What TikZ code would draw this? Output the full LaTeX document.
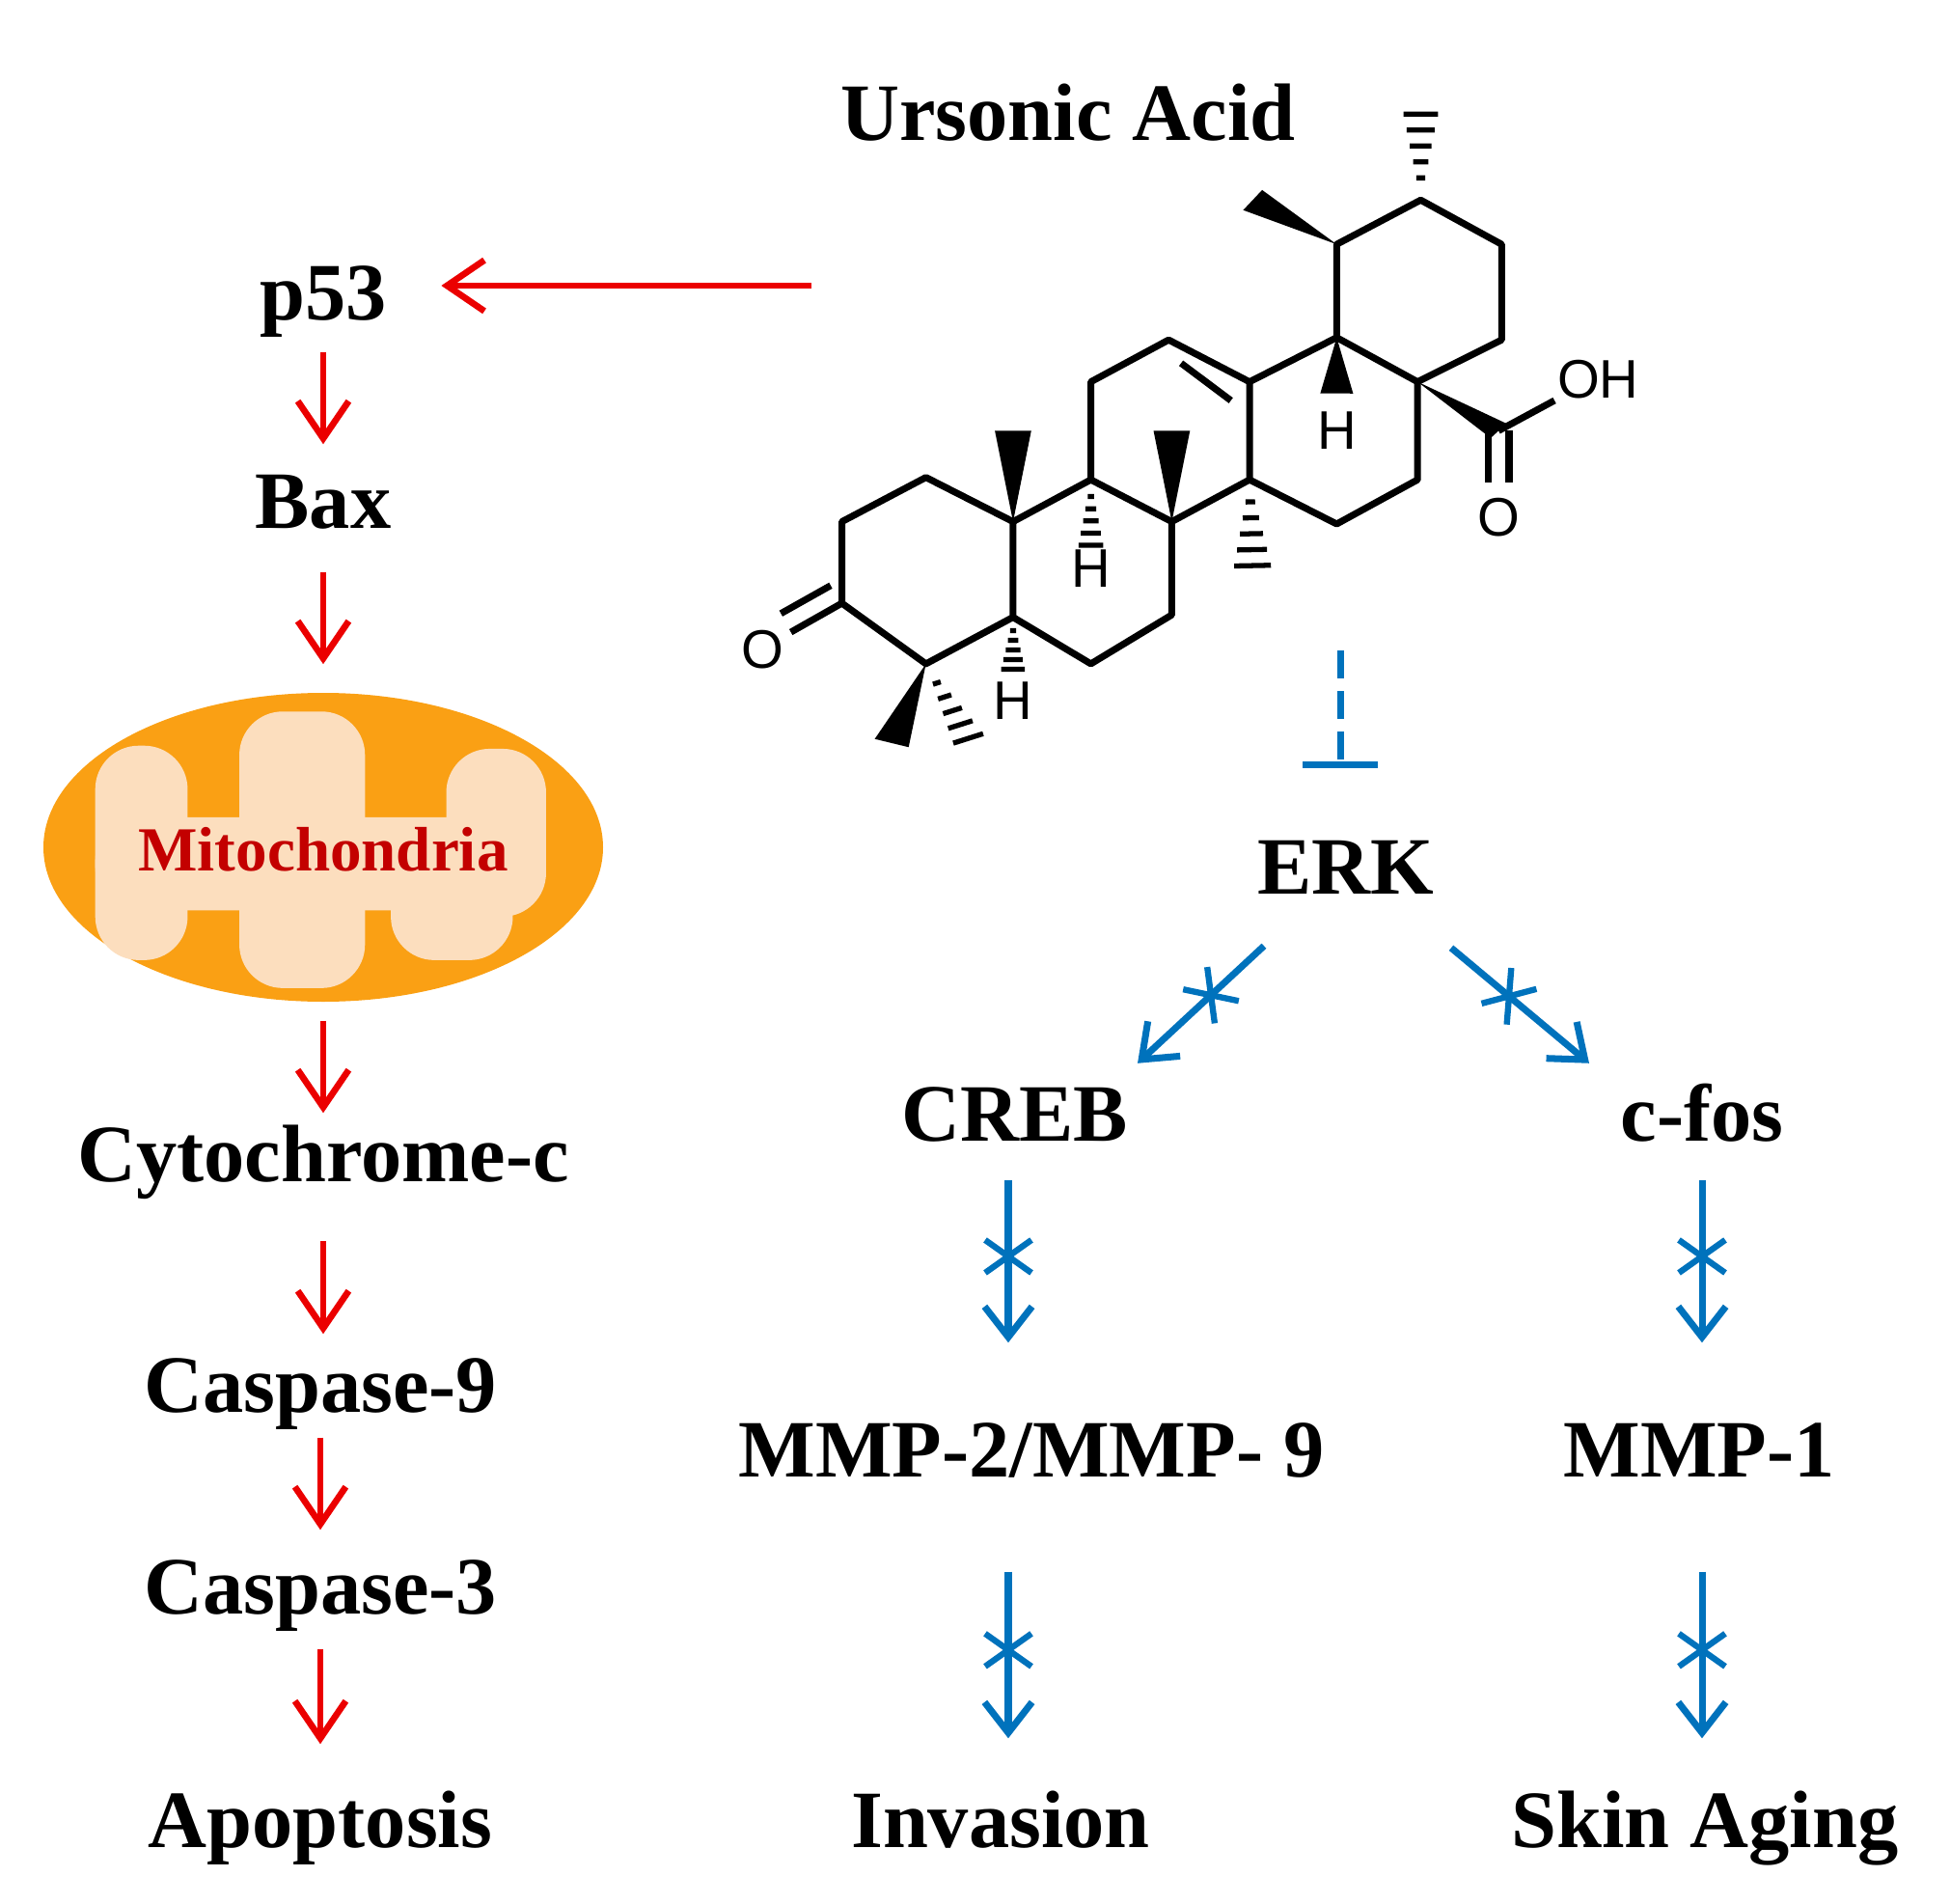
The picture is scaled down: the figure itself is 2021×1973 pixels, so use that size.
\documentclass[tikz,border=0pt]{standalone}
\usepackage{fontspec}
\setmainfont{Liberation Serif}
\newfontfamily\chemsf{Liberation Sans}
\usetikzlibrary{arrows.meta,calc,decorations.markings}
\definecolor{rd}{RGB}{235,0,0}
\definecolor{bl}{RGB}{0,114,188}
\definecolor{mitoO}{RGB}{250,160,20}
\definecolor{mitoL}{RGB}{252,222,190}
\definecolor{mitoT}{RGB}{195,0,0}
\newcommand\wdg[3]{\path ($(#2)!#3!90:(#1)$) coordinate (wL) ($(#2)!#3!-90:(#1)$) coordinate (wR); \fill (#1) -- (wL) -- (wR) -- cycle;}
\newcommand\hsh[3]{\path ($(#2)!#3!90:(#1)$) coordinate (wL) ($(#2)!#3!-90:(#1)$) coordinate (wR);
 \foreach \t in {0.25,0.43,0.61,0.79,0.97}{\draw[line width=1.5pt] ($(#1)!\t!(wL)$) -- ($(#1)!\t!(wR)$);}}
\tikzset{
 lbl/.style={font=\fontsize{24}{28}\selectfont\bfseries, inner sep=0, text height=0.6cm, text depth=0.15cm},
 ra/.style={draw=rd, line width=1.9pt, -{Straight Barb[length=11pt,width=15pt,line width=1.9pt]}},
 ba/.style={draw=bl, line width=2pt, -{Straight Barb[length=9pt,width=14pt,line width=2pt]}},
 xm/.style={postaction={decorate, decoration={markings, mark=at position #1 with {
   \draw[bl, line width=1.8pt, -] (-0.17cm,-0.24cm)--(0.17cm,0.24cm) (-0.17cm,0.24cm)--(0.17cm,-0.24cm);}}}},
 bond/.style={line width=2pt, line join=round},
 atm/.style={font=\chemsf\fontsize{16}{18}\selectfont, inner sep=0},
}
\begin{document}
\begin{tikzpicture}[x=0.01cm,y=-0.01cm]
\useasboundingbox (0,0) rectangle (2021,1973);
% left column
\node[lbl] (p53) at (335,309) {p53};
\node[lbl] (bax) at (335,525) {Bax};
% mitochondria
\fill[mitoO] (335,878) ellipse [x radius=290, y radius=160];
\begin{scope}[shift={(335,878)}, xscale=0.383, yscale=0.322, shift={(-767,-517)}, rounded corners=0.45cm]
 \fill[mitoL] (150,420) rectangle (1370,720);
 \fill[mitoL] (150,190) rectangle (400,880);
 \fill[mitoL] (540,80) rectangle (880,970);
 \fill[mitoL] (1100,200) rectangle (1370,740);
 \fill[mitoL] (950,560) rectangle (1280,880);
\end{scope}
\node[inner sep=0, minimum width=5.8cm, minimum height=3.2cm] (mito) at (335,878) {};
\node[font=\fontsize{18.5}{20}\selectfont\bfseries, text=mitoT] at (335,880) {Mitochondria};
\node[lbl] (cyt) at (335,1202) {Cytochrome-c};
\node[lbl] (c9) at (332,1441) {Caspase-9};
\node[lbl] (c3) at (332,1650) {Caspase-3};
\node[lbl] (apo) at (332,1892) {Apoptosis};
% right side text
\node[lbl] (ua) at (1107,123) {Ursonic Acid};
\node[lbl] (erk) at (1395,904) {ERK};
\node[lbl] (creb) at (1052,1160) {CREB};
\node[lbl] (cfos) at (1764,1160) {c-fos};
\node[lbl] (mmp) at (1069,1508) {MMP-2/MMP- 9};
\node[lbl] (mmp1) at (1761,1508) {MMP-1};
\node[lbl] (inv) at (1037,1892) {Invasion};
\node[lbl] (skin) at (1767,1892) {Skin Aging};
% molecule
\begin{scope}[shift={(750,60)}, xscale=0.645, yscale=0.483]
 \foreach \n/\x/\y in {1/325/900,2/190/995,3/190/1170,4/325/1300,5/465/1200,10/465/995,9/590/905,8/720/995,7/720/1195,6/590/1300,11/590/695,12/715/605,13/845/695,14/845/905,18/985/600,17/1115/695,16/1115/905,15/985/1000,19/985/400,20/1120/305,21/1250/400,22/1250/605}
   \coordinate (a\n) at (\x,\y);
 \draw[bond] (a1)--(a2)--(a3)--(a4)--(a5)--(a10)--cycle;
 \draw[bond] (a10)--(a9)--(a8)--(a7)--(a6)--(a5);
 \draw[bond] (a9)--(a11)--(a12)--(a13)--(a14)--(a8);
 \draw[bond] (a13)--(a18)--(a17)--(a16)--(a15)--(a14);
 \draw[bond] (a18)--(a19)--(a20)--(a21)--(a22)--(a17);
 \draw[bond] (735,655)--(815,735);
 % ketone
 \draw[bond] (a3)--(108,1232);
 \draw[bond] (172,1132)--(92,1192);
 \node[atm] at (62,1270) {O};
 % substituents
 \wdg{a10}{465,800}{0.15}
 \wdg{a8}{720,800}{0.15}
 \hsh{a9}{590,1050}{0.14}
 \node[atm] at (590,1095) {H};
 \hsh{a14}{850,1095}{0.16}
 \wdg{a18}{985,720}{0.22}
 \node[atm] at (985,800) {H};
 \wdg{a19}{850,305}{0.16}
 \hsh{a20}{1120,115}{0.15}
 \hsh{a5}{465,1315}{0.17}
 \node[atm] at (465,1380) {H};
 \wdg{a4}{270,1470}{0.16}
 \hsh{a4}{395,1465}{0.15}
 \coordinate (cc) at (1245,800);
 \wdg{a17}{cc}{0.12}
 \draw[bond] (cc)--(1335,735);
 \node[atm] at (1405,690) {OH};
 \draw[bond] (1228,800)--(1228,912);
 \draw[bond] (1262,800)--(1262,912);
 \node[atm] at (1245,985) {O};
\end{scope}
% red arrows
\coordinate (src) at (841,296);
\draw[ra, shorten >=0.56cm] (src) -- (p53.east |- src);
\draw[ra, shorten <=0.175cm, shorten >=0.265cm] (p53.south) -- (bax.north);
\draw[ra, shorten <=0.30cm, shorten >=0.29cm] (bax.south) -- (mito.north);
\draw[ra, shorten <=0.19cm, shorten >=0.105cm] (mito.south) -- (cyt.north);
\draw[ra, shorten <=0.46cm, shorten >=0.205cm] (cyt.south) -- (cyt.south |- c9.north);
\draw[ra, shorten <=0.105cm, shorten >=0.265cm] (c9.south) -- (c3.north);
\draw[ra, shorten <=0.205cm, shorten >=0.465cm] (c3.south) -- (apo.north);
% inhibition
\coordinate (inh) at (1389,674);
\draw[bl, line width=2pt, dash pattern=on 0.29cm off 0.13cm, -{Bar[width=22pt,line width=2pt]}, shorten >=0.695cm] (inh) -- (inh |- erk.north);
% blue arrows
\draw[ba, xm=0.42] ($(erk.south)+(-85,38)$) -- ($(creb.north)+(127,-20)$);
\draw[ba, xm=0.42] ($(erk.south)+(109,40)$) -- ($(cfos.north)+(-117,-20)$);
\draw[ba, xm=0.47] ($(creb.south)+(-7,24.5)$) -- ($(mmp.north)+(-24,-78.5)$);
\draw[ba, xm=0.47] ($(cfos.south)+(0,24.5)$) -- ($(cfos.south |- mmp1.north)+(0,-78.5)$);
\draw[ba, xm=0.47] ($(mmp.south)+(-24,82.5)$) -- ($(mmp.south |- inv.north)+(-24,-52.5)$);
\draw[ba, xm=0.47] ($(mmp1.south)+(3,82.5)$) -- ($(mmp1.south |- skin.north)+(3,-52.5)$);
\end{tikzpicture}
\end{document}
